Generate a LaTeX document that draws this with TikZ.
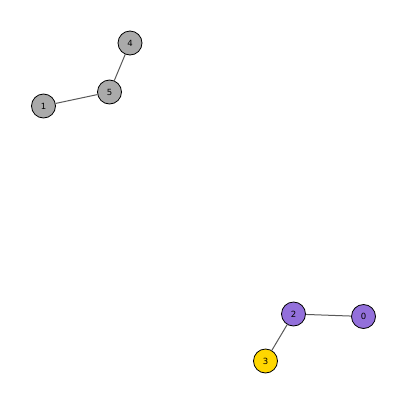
\documentclass[tikz,border=0pt]{standalone}
\usepackage{fontspec}
\setmainfont{DejaVu Sans}
\definecolor{grayfill}{HTML}{AAAAAA}
\definecolor{purplefill}{HTML}{9370DB}
\definecolor{goldfill}{HTML}{FFD700}
\begin{document}
\begin{tikzpicture}[x=1pt,y=-1pt]
	\useasboundingbox (0,0) rectangle (407,405);
	\begin{scope}[every node/.style={circle,draw,line width=0.8pt,minimum size=24pt,inner sep=0pt,font=\fontsize{8.5}{9}\selectfont}]
	\node [fill=grayfill] (N4) at (130,43) {4};
	\node [fill=grayfill] (N5) at (109.5,92) {5};
	\node [fill=grayfill] (N1) at (43.5,106) {1};
	\node [fill=purplefill] (N2) at (293.5,314) {2};
	\node [fill=purplefill] (N0) at (363.5,316.5) {0};
	\node [fill=goldfill] (N3) at (265.5,361) {3};
	\end{scope}
	\draw [line width=1pt,black!65] (N4) edge (N5);
	\draw [line width=1pt,black!65] (N5) edge (N1);
	\draw [line width=1pt,black!65] (N2) edge (N0);
	\draw [line width=1pt,black!65] (N2) edge (N3);
\end{tikzpicture}
\end{document}
